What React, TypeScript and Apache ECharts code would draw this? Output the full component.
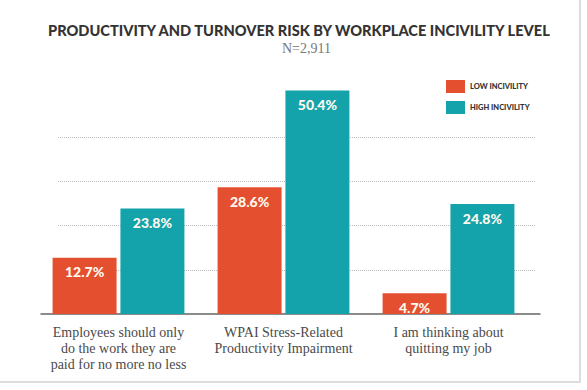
import React, { useEffect, useRef } from "react";
import * as echarts from "echarts";

const categories = [
  "Employees should only\ndo the work they are\npaid for no more no less",
  "WPAI Stress-Related\nProductivity Impairment",
  "I am thinking about\nquitting my job",
];
const lowIncivility = [12.7, 28.6, 4.7];
const highIncivility = [23.8, 50.4, 24.8];
const seriesNames = ["LOW INCIVILITY", "HIGH INCIVILITY"];
const titleText = "PRODUCTIVITY AND TURNOVER RISK BY WORKPLACE INCIVILITY LEVEL";
const subtitleText = "N=2,911";

export default function App() {
  const ref = useRef<HTMLDivElement>(null);
  useEffect(() => {
    if (!ref.current) return;
    const chart = echarts.init(ref.current, undefined, { renderer: "svg" });
    const labelStyle = {
      show: true,
      position: "insideTop",
      distance: 7,
      color: "#fffaf0",
      fontFamily: "Lato",
      fontWeight: 900,
      fontSize: 14,
      formatter: (p: any) => p.value.toFixed(1) + "%",
    };
    chart.setOption({
      animation: false,
      backgroundColor: "#ffffff",
      title: [
        {
          text: titleText,
          left: 43,
          top: 18,
          textStyle: { fontFamily: "Lato", fontWeight: 900, fontSize: 14.6, color: "#333333" },
        },
        {
          text: subtitleText,
          left: 277,
          top: 36,
          textStyle: { fontFamily: "Liberation Serif", fontWeight: "normal", fontSize: 14, color: "#777777" },
        },
      ],
      legend: {
        data: seriesNames,
        orient: "vertical",
        left: 441,
        top: 75,
        itemWidth: 19,
        itemHeight: 13,
        itemGap: 8,
        icon: "rect",
        textStyle: { fontFamily: "Lato", fontWeight: 900, fontSize: 7.5, color: "#333333" },
      },
      grid: [
        { left: 36, right: 56, top: 48, bottom: 76 },
        { left: 58, right: 51, top: 137, bottom: 76 },
        { left: 41, right: 47, top: 300, bottom: 76 },
      ],
      xAxis: [
        {
          type: "category",
          gridIndex: 0,
          data: categories,
          axisLine: { show: false },
          axisTick: { show: false },
          axisLabel: {
            interval: 0,
            margin: 10,
            fontFamily: "Liberation Serif",
            fontSize: 14,
            lineHeight: 16,
            color: "#4a4a4a",
          },
        },
        { type: "value", gridIndex: 1, min: 0, max: 1, show: false },
        {
          type: "value",
          gridIndex: 2,
          min: 0,
          max: 1,
          axisLine: { show: true, lineStyle: { color: "#666666", width: 1.5 } },
          axisTick: { show: false },
          axisLabel: { show: false },
          splitLine: { show: false },
        },
      ],
      yAxis: [
        { type: "value", gridIndex: 0, min: 0, max: 60, interval: 10, show: false },
        {
          type: "value",
          gridIndex: 1,
          min: 0,
          max: 40,
          interval: 10,
          axisLine: { show: false },
          axisTick: { show: false },
          axisLabel: { show: false },
          splitLine: {
            show: true,
            lineStyle: {
              type: "dotted",
              width: 1,
              color: ["rgba(0,0,0,0)", "#bbbbbb", "#bbbbbb", "#bbbbbb", "#bbbbbb"],
            },
          },
        },
        { type: "value", gridIndex: 2, min: 0, max: 1, show: false },
      ],
      series: [
        {
          name: seriesNames[0],
          type: "bar",
          xAxisIndex: 0,
          yAxisIndex: 0,
          data: lowIncivility,
          barWidth: 64,
          barGap: "6%",
          itemStyle: { color: "#e4502f" },
          label: labelStyle,
          z: 3,
        },
        {
          name: seriesNames[1],
          type: "bar",
          xAxisIndex: 0,
          yAxisIndex: 0,
          data: highIncivility,
          barWidth: 64,
          barGap: "6%",
          itemStyle: { color: "#15a3ab" },
          label: labelStyle,
          z: 3,
        },
      ],
      graphic: [
        {
          type: "rect",
          shape: { x: -5, y: -5, width: 585, height: 387 },
          style: { fill: "none", stroke: "#dddddd", lineWidth: 2 },
          silent: true,
        },
      ],
    });
    return () => chart.dispose();
  }, []);
  return (
    <div
      ref={ref}
      style={{ position: "absolute", left: 0, top: 0, width: 587, height: 390 }}
    />
  );
}
